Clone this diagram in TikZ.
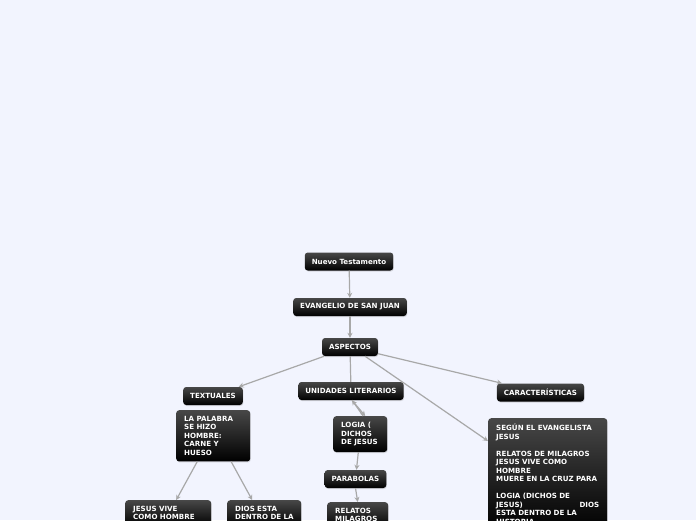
\documentclass[tikz,border=0pt]{standalone}
\usepackage{fontspec}
\newfontfamily\mapfont{DejaVu Sans}
\usetikzlibrary{arrows.meta,shadows}
\definecolor{bgblue}{RGB}{242,244,254}
\definecolor{linkgray}{RGB}{168,168,168}

\begin{document}
\begin{tikzpicture}[x=1pt, y=-1pt,
	every node/.style={font=\mapfont\bfseries\fontsize{7.1}{8.5}\selectfont, text=white},
	topic/.style={rounded corners=3pt, top color=black!72, bottom color=black, inner xsep=7pt, minimum height=18pt, drop shadow={opacity=0.25, shadow xshift=0.6pt, shadow yshift=-1pt}},
	note/.style={topic, anchor=north west, align=left, inner xsep=8pt, inner ysep=6pt},
	link/.style={draw=linkgray, line width=1.2pt, -{Stealth[length=5pt, width=5pt]}}]
	\fill[bgblue] (0,0) rectangle (696,520);
	\clip (0,0) rectangle (696,520);
	\node[topic] (nt) at (349,261.5) {Nuevo Testamento};
	\node[topic] (ev) at (350,307) {EVANGELIO DE SAN JUAN};
	\node[topic] (asp) at (350,347) {ASPECTOS};
	\node[topic] (txt) at (213,396) {TEXTUALES};
	\node[topic] (uni) at (351,391) {UNIDADES LITERARIOS};
	\node[topic] (car) at (540.5,392.5) {CARACTERÍSTICAS};
	\node[note, text width=58pt] (pal) at (176,410) {LA PALABRA\\SE HIZO\\HOMBRE:\\CARNE Y\\HUESO};
	\node[note, text width=38pt] (log) at (333,416) {LOGIA (\\DICHOS\\DE JESUS};
	\node[topic] (par) at (355.5,479) {PARABOLAS};
	\node[note, text width=45pt] (rel) at (327,502) {RELATOS\\MILAGROS};
	\node[note, text width=70pt] (viv) at (125,500) {JESUS VIVE\\COMO HOMBRE};
	\node[note, text width=58pt] (dios) at (227,500) {DIOS ESTA\\\mbox{DENTRO DE LA}};
	\node[note, text width=103pt] (seg) at (488,418) {SEGÚN EL EVANGELISTA\\JESUS\\[8.5pt]RELATOS DE MILAGROS\\JESUS VIVE COMO\\HOMBRE\\MUERE EN LA CRUZ PARA\\[8.5pt]LOGIA (DICHOS DE\\JESUS)\hfill DIOS\\ESTA DENTRO DE LA\\HISTORIA};
	\draw[link] (nt) -- (ev);
	\draw[link] (ev) -- (asp);
	\draw[link] (asp) -- (txt);
	\draw[link, -] (asp) -- (uni);
	\draw[link] (asp) -- (car);
	\draw[link] ([xshift=15pt]asp.south) -- ([yshift=-23pt]seg.north west);
	\draw[link] ([xshift=1pt]uni.south) -- ([xshift=5pt]log.north);
	\draw[link] ([xshift=3pt]log.north) -- ([xshift=1pt]uni.south);
	\draw[link] (log) -- (par);
	\draw[link] (par.south) -- (rel.north);
	\draw[link] ([xshift=-16pt]pal.south) -- ([xshift=8pt]viv.north);
	\draw[link] ([xshift=18pt]pal.south) -- ([xshift=-12pt]dios.north);
\end{tikzpicture}
\end{document}
